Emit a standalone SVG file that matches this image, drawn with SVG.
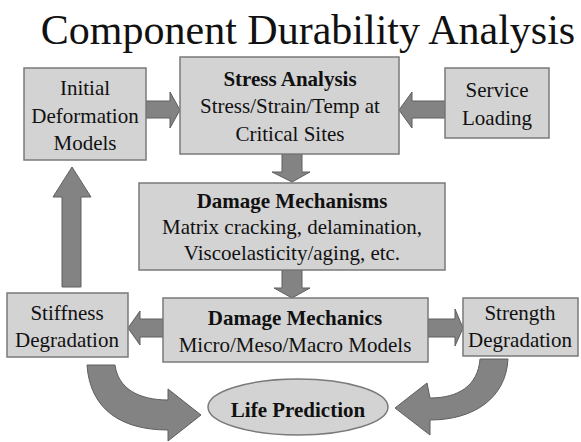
<svg xmlns="http://www.w3.org/2000/svg" width="581" height="442" viewBox="0 0 581 442">
<style>
.box{fill:#d3d3d3;stroke:#7a7a7a;stroke-width:1.5}
.arr{fill:#838383;stroke:#5e5e5e;stroke-width:1}
text{fill:#111;text-anchor:middle;font-size:21px}
.b{font-weight:bold}
.title{font-size:42px}
</style>
<rect width="581" height="442" fill="#ffffff"/>
<g font-family="'Liberation Serif', 'Times New Roman', Times, 'DejaVu Serif', serif">
<text class="title" x="308" y="44">Component Durability Analysis</text>
<g id="connectors">
<polygon class="arr" points="146,101 170,101 170,92 180,110 170,128 170,118 146,118"/>
<polygon class="arr" points="445,101 412,101 412,92 399,110 412,128 412,118 445,118"/>
<polygon class="arr" points="282,154 302,154 302,172 310,172 292,182 272,172 282,172"/>
<polygon class="arr" points="282,270 302,270 302,288 310,288 292,298 274,288 282,288"/>
<polygon class="arr" points="163,319 140,319 140,311 128,328 140,345 140,337 163,337"/>
<polygon class="arr" points="428,319 455,319 455,309 463,328 455,346 455,337 428,337"/>
<polygon class="arr" points="62,287 81,287 81,197 91,197 72,167 53,197 62,197"/>
<path class="arr" d="M87,365 L115,365 C118,388 138,400 168,400 L168,389 L201,415 L168,441 L168,430 C122,430 90,410 87,365 Z"/>
<path class="arr" d="M480,359 L508,359 C506,398 474,420 430,420 L430,435 L395,408 L427,383 L430,398 C458,398 478,386 480,359 Z"/>
</g>
<g id="initial">
<rect class="box" x="24" y="68" width="122" height="92"/>
<text x="85" y="95">Initial</text>
<text x="85" y="123">Deformation</text>
<text x="85" y="150">Models</text>
</g>
<g id="stress">
<rect class="box" x="180" y="57" width="219" height="97"/>
<text class="b" x="290" y="86">Stress Analysis</text>
<text x="290" y="113">Stress/Strain/Temp at</text>
<text x="290" y="141">Critical Sites</text>
</g>
<g id="service">
<rect class="box" x="445" y="68" width="104" height="70"/>
<text x="497" y="97">Service</text>
<text x="497" y="125">Loading</text>
</g>
<g id="mechanisms">
<rect class="box" x="139" y="183" width="306" height="87"/>
<text class="b" x="292" y="208">Damage Mechanisms</text>
<text x="292" y="234">Matrix cracking, delamination,</text>
<text x="292" y="260">Viscoelasticity/aging, etc.</text>
</g>
<g id="mechanics">
<rect class="box" x="163" y="298" width="265" height="64"/>
<text class="b" x="295" y="325">Damage Mechanics</text>
<text x="295" y="352">Micro/Meso/Macro Models</text>
</g>
<g id="stiffness">
<rect class="box" x="7" y="293" width="121" height="64"/>
<text x="67" y="320">Stiffness</text>
<text x="67" y="347">Degradation</text>
</g>
<g id="strength">
<rect class="box" x="463" y="298" width="115" height="58"/>
<text x="520" y="320">Strength</text>
<text x="520" y="347">Degradation</text>
</g>
<g id="life">
<ellipse class="box" cx="298" cy="407" rx="90" ry="28"/>
<text class="b" x="298" y="417">Life Prediction</text>
</g>
</g>
</svg>
